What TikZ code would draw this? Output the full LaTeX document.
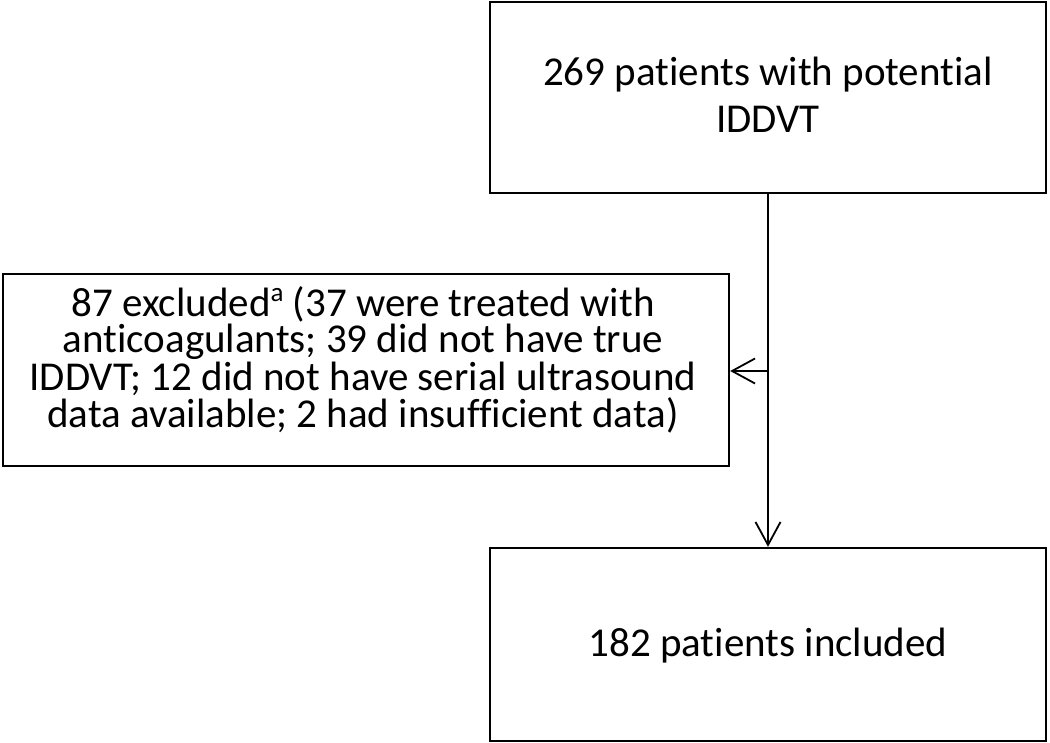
\documentclass[tikz,border=0pt]{standalone}
\usepackage{fontspec}
\setmainfont[Ligatures=NoCommon]{Carlito}
\usetikzlibrary{arrows.meta}
\newcommand{\supa}{\raisebox{0.36em}{\fontsize{27}{27}\selectfont a}}
\begin{document}
\begin{tikzpicture}[x=1pt,y=-1pt,
  box/.style={draw=black, line width=2.3pt, fill=white, inner sep=0pt, align=center},
  conn/.style={draw=black, line width=1.8pt, -{Straight Barb[length=23pt,width=25pt,line width=1.8pt]}},
  lbl/.style={inner sep=0pt, align=center}]
\useasboundingbox[fill=white] (0,0) rectangle (1050,743);
\node[box, minimum width=556pt, minimum height=191pt] (top) at (768,97.5) {};
\node[lbl, font=\fontsize{41}{47}\selectfont, anchor=base] (toptxt) at (768,133)
  {269 patients with potential\\IDDVT};
\node[box, minimum width=726pt, minimum height=192pt] (excl) at (366,370) {};
\node[lbl, font=\fontsize{41}{37}\selectfont, anchor=base] (excltxt) at (363,427)
  {87 excluded\supa{} (37 were treated with\\anticoagulants; 39 did not have true\\IDDVT; 12 did not have serial ultrasound\\data available; 2 had insufficient data)};
\node[box, minimum width=556pt, minimum height=193pt] (incl) at (768,644.5) {};
\node[lbl, font=\fontsize{41}{47}\selectfont, anchor=base] (incltxt) at (768,656)
  {182 patients included};
\coordinate (j) at (768,371);
\draw[conn] (top.south) -- (incl.north);
\draw[conn] (j) -- (j -| excl.east);
\end{tikzpicture}
\end{document}
